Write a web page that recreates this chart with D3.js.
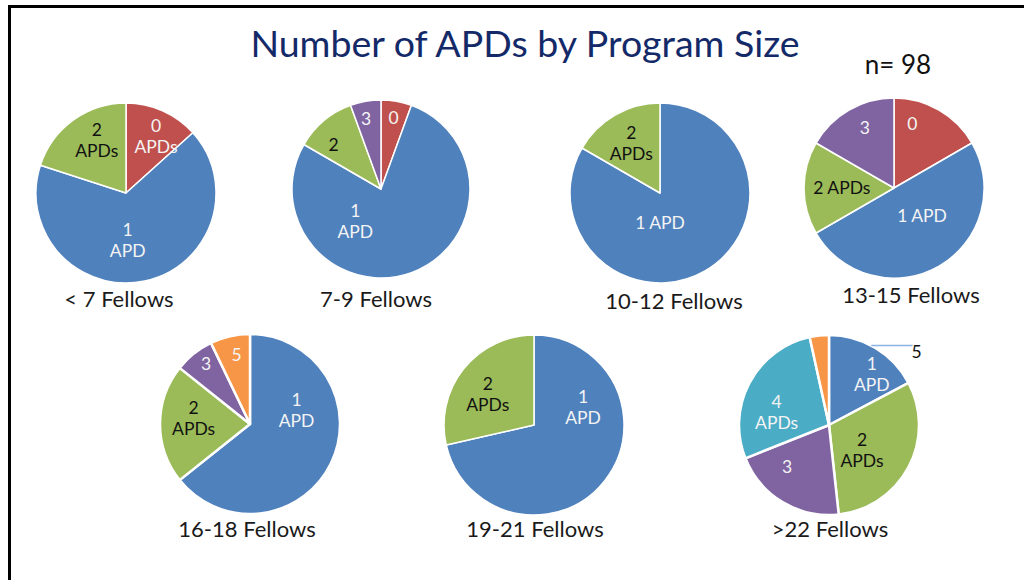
<!DOCTYPE html>
<html>
<head>
<meta charset="utf-8">
<script src="https://cdn.jsdelivr.net/npm/d3@7"></script>
<style>
  body { margin: 0; background: #fff; }
  text { font-family: Lato, "Noto Sans", sans-serif; }
</style>
</head>
<body>
<svg id="chart"></svg>
<script>
// categories
const programSizes = ["< 7 Fellows", "7-9 Fellows", "10-12 Fellows", "13-15 Fellows",
                      "16-18 Fellows", "19-21 Fellows", ">22 Fellows"];
const apdLevels = ["0", "1", "2", "3", "4", "5"];

// number of programs per APD count (order follows apdLevels)
const lt7Fellows   = [2, 10, 3, 0, 0, 0];
const f7to9Fellows = [1, 14, 2, 1, 0, 0];
const f10to12      = [0, 5, 1, 0, 0, 0];
const f13to15      = [1, 3, 1, 1, 0, 0];
const f16to18      = [0, 9, 3, 1, 0, 1];
const f19to21      = [0, 5, 2, 0, 0, 0];
const gt22Fellows  = [0, 5, 9, 6, 8, 1];

// slice label texts ("|" = line break)
const lt7Labels   = ["0|APDs", "1|APD", "2|APDs", "", "", ""];
const f7to9Labels = ["0", "1|APD", "2", "3", "", ""];
const f10Labels   = ["", "1 APD", "2|APDs", "", "", ""];
const f13Labels   = ["0", "1 APD", "2 APDs", "3", "", ""];
const f16Labels   = ["", "1|APD", "2|APDs", "3", "", "5"];
const f19Labels   = ["", "1|APD", "2|APDs", "", "", ""];
const gt22Labels  = ["", "1|APD", "2|APDs", "3", "4|APDs", "5"];

const totalN = 98;

const allCounts = [lt7Fellows, f7to9Fellows, f10to12, f13to15, f16to18, f19to21, gt22Fellows];
const allLabels = [lt7Labels, f7to9Labels, f10Labels, f13Labels, f16Labels, f19Labels, gt22Labels];

const colors = d3.scaleOrdinal()
    .domain(apdLevels)
    .range(["#C0504D", "#4F81BD", "#9BBB59", "#8064A2", "#4BACC6", "#F79646"]);

// layout: pie centre, radius, white gap, caption spot
const layout = [
  { cx: 126, cy: 193, r: 90, gap: 1.5, capX: 119, capY: 307 },
  { cx: 381, cy: 189, r: 89, gap: 1.5, capX: 376, capY: 307 },
  { cx: 660, cy: 193, r: 90, gap: 1.5, capX: 674, capY: 309 },
  { cx: 894, cy: 188, r: 90, gap: 1.5, capX: 911, capY: 303 },
  { cx: 250, cy: 424, r: 90, gap: 2.5, capX: 247, capY: 537 },
  { cx: 534, cy: 425, r: 90, gap: 1.5, capX: 535, capY: 537 },
  { cx: 829, cy: 425, r: 90, gap: 2.5, capX: 830, capY: 537 }
];

// label placement (angle clockwise from 12 o'clock, fraction of radius)
const labelSpots = [
  { "0": [28, 0.71], "1": [178, 0.53], "2": [331, 0.67] },
  { "0": [10, 0.81], "1": [219, 0.46], "2": [313, 0.73], "3": [348, 0.81] },
  { "1": [180, 0.33], "2": [330, 0.64] },
  { "0": [16, 0.74], "1": [135, 0.44], "2": [270, 0.58], "3": [334, 0.74] },
  { "1": [73, 0.54], "2": [276, 0.63], "3": [324, 0.83], "5": [349, 0.78] },
  { "1": [70, 0.58], "2": [304, 0.62] },
  { "1": [40, 0.74], "2": [127, 0.46], "3": [225, 0.66], "4": [284, 0.60], "5": [50, 1.27] }
];

const W = 1024, H = 580;
const svg = d3.select("#chart").attr("width", W).attr("height", H);

// frame
svg.append("rect")
    .attr("x", 9.5).attr("y", 6.5)
    .attr("width", W + 20).attr("height", H + 20)
    .attr("fill", "#fff")
    .attr("stroke", "#000")
    .attr("stroke-width", 3);

svg.append("text")
    .attr("x", 525).attr("y", 57)
    .attr("text-anchor", "middle")
    .attr("font-size", 37.5)
    .attr("fill", "#142a68")
    .text("Number of APDs by Program Size");

svg.append("text")
    .attr("x", 898).attr("y", 74)
    .attr("text-anchor", "middle")
    .attr("font-size", 26)
    .attr("fill", "#111")
    .text("n= " + totalN);

const pie = d3.pie().sort(null).value(d => d.value);

programSizes.forEach((name, i) => {
  const L = layout[i];
  const rows = apdLevels.map((lvl, j) => ({
    level: lvl, value: allCounts[i][j], label: allLabels[i][j]
  })).filter(d => d.value > 0);

  const arc = d3.arc().innerRadius(0).outerRadius(L.r);
  const g = svg.append("g").attr("transform", `translate(${L.cx},${L.cy})`);
  const arcs = pie(rows);

  g.selectAll("path")
    .data(arcs)
    .enter()
    .append("path")
    .attr("d", arc)
    .attr("fill", d => colors(d.data.level))
    .attr("stroke", "#fff")
    .attr("stroke-width", L.gap)
    .attr("stroke-linejoin", "round");

  arcs.forEach(a => {
    if (!a.data.label) return;
    let spot = labelSpots[i][a.data.level];
    let ang, frac;
    if (spot) { ang = spot[0] * Math.PI / 180; frac = spot[1]; }
    else { ang = (a.startAngle + a.endAngle) / 2; frac = 0.65; }
    const x = frac * L.r * Math.sin(ang);
    const y = -frac * L.r * Math.cos(ang);
    const outside = frac > 1;
    const fill = outside ? "#111" : (a.data.level === "2" ? "#111" : "#f4f4f4");

    if (outside) {
      // leader line from the rim, straight across to the label
      const ly = y - 6;
      const lx = Math.sqrt(L.r * L.r - ly * ly);
      g.append("line")
        .attr("x1", lx).attr("y1", ly)
        .attr("x2", x - 4).attr("y2", ly)
        .attr("stroke", "#8db3e2")
        .attr("stroke-width", 1.5);
    }

    const lines = a.data.label.split("|");
    const t = g.append("text")
      .attr("text-anchor", "middle")
      .attr("font-size", 17.5)
      .attr("fill", fill);
    lines.forEach((s, k) => {
      t.append("tspan")
        .attr("x", x)
        .attr("y", y + (k - (lines.length - 1) / 2) * 21)
        .attr("dy", "0.36em")
        .text(s);
    });
  });

  svg.append("text")
    .attr("x", L.capX).attr("y", L.capY)
    .attr("text-anchor", "middle")
    .attr("font-size", 22)
    .attr("fill", "#1a1a1a")
    .text(name);
});
</script>
</body>
</html>
